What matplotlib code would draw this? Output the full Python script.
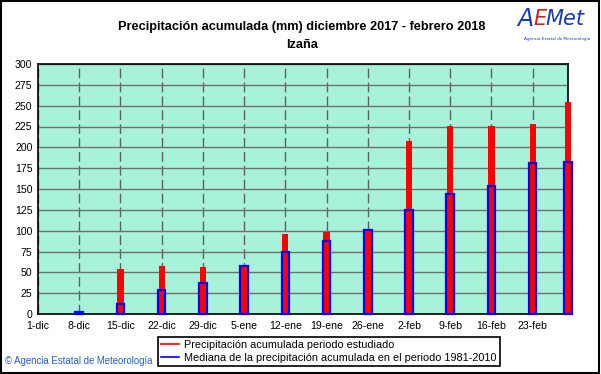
import matplotlib
matplotlib.use('Agg')
import matplotlib.pyplot as plt
from matplotlib.lines import Line2D
from matplotlib.patches import Rectangle

plt.rcParams['font.family'] = ['Liberation Sans', 'DejaVu Sans']

# data (days counted from 1 December 2017)
tick_days = [0, 7, 14, 21, 28, 35, 42, 49, 56, 63, 70, 77, 84]
tick_labels = ['1-dic', '8-dic', '15-dic', '22-dic', '29-dic', '5-ene', '12-ene',
               '19-ene', '26-ene', '2-feb', '9-feb', '16-feb', '23-feb']
bar_days = [7, 14, 21, 28, 35, 42, 49, 56, 63, 70, 77, 84, 90]
acumulada = [0, 54, 58, 57, 57, 96, 99, 100, 208, 226, 226, 228, 255]
mediana = [3, 12, 29, 37, 58, 74, 88, 101, 125, 144, 154, 181, 182]

fig = plt.figure(figsize=(6.01, 3.74), dpi=100)
ax = fig.add_axes([38/601, 1 - 314/374, 530/601, 250/374])
ax.set_facecolor('#a8f2da')

ax.bar(bar_days, acumulada, width=1.05, color='#ff0000', zorder=3, clip_on=False)
ax.bar(bar_days, mediana, width=1.3, facecolor='none', edgecolor='#0000ff',
       linewidth=1.6, zorder=4, clip_on=False)

ax.set_xlim(0, 90)
ax.set_ylim(0, 300)
ax.set_yticks(range(0, 301, 25))
ax.set_xticks(tick_days)
ax.set_xticklabels(tick_labels)
ax.tick_params(length=0, labelsize=7.6, pad=5)
ax.tick_params(axis='y', pad=4)
ax.yaxis.grid(True, color='#707070', linewidth=1, zorder=1)
ax.xaxis.grid(True, color='#606060', linewidth=1, linestyle=(0, (7, 3)), zorder=1)
ax.set_axisbelow(True)
for s in ax.spines.values():
    s.set_linewidth(1.2)

# titles
fig.text(302/601, 1 - 27/374, 'Precipitación acumulada (mm) diciembre 2017 - febrero 2018',
         ha='center', va='center', fontsize=9.2, fontweight='bold')
fig.text(302/601, 1 - 45/374, 'Izaña', ha='center', va='center',
         fontsize=9.2, fontweight='bold')

# logo
fig.text(533/601, 1 - 19/374, 'A', color='#1a3cb0', fontsize=17, style='italic',
         ha='right', va='center', family='DejaVu Sans')
fig.text(533/601, 1 - 19/374, 'E', color='#d02020', fontsize=15, style='italic',
         ha='left', va='center', family='DejaVu Sans')
fig.text(545/601, 1 - 19/374, 'Met', color='#1a3cb0', fontsize=15, style='italic',
         ha='left', va='center', family='DejaVu Sans')
fig.text(557/601, 1 - 39/374, 'Agencia Estatal de Meteorología', color='#1a3cb0',
         fontsize=3.0, ha='center', va='center', family='DejaVu Sans')

# copyright
fig.text(5/601, 1 - 361/374, '© Agencia Estatal de Meteorología', color='#2a5cc8',
         fontsize=6.9, ha='left', va='center')

# legend
handles = [Line2D([], [], color='#ff0000', linewidth=1.2),
           Line2D([], [], color='#0000ff', linewidth=1.2)]
labels = ['Precipitación acumulada periodo estudiado',
          'Mediana de la precipitación acumulada en el periodo 1981-2010']
leg = fig.legend(handles, labels, loc='upper left',
                 bbox_to_anchor=(158/601, 1 - 337/374), frameon=True,
                 fancybox=False, edgecolor='black', framealpha=1,
                 fontsize=7.8, handlelength=1.6, handletextpad=0.5,
                 borderpad=0.3, labelspacing=0.25, borderaxespad=0)
leg.get_frame().set_linewidth(1.2)

# outer frame
fig.patches.append(Rectangle((0.002, 0.003), 0.995, 0.994, transform=fig.transFigure,
                             fill=False, edgecolor='black', linewidth=1.5))

fig.savefig('out.png', dpi=100)
